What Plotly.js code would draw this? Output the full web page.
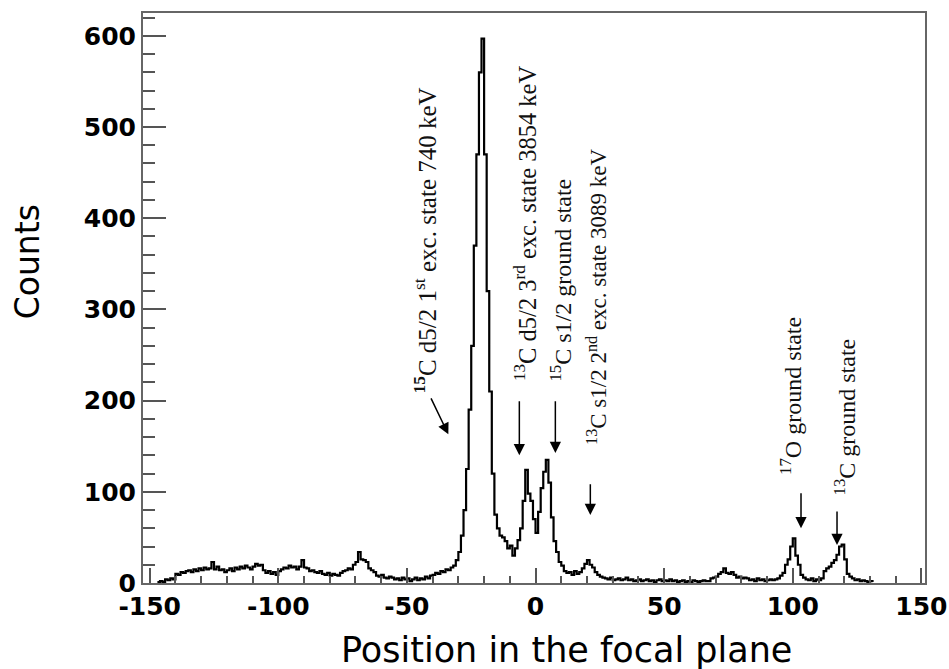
<!DOCTYPE html>
<html>
<head>
<meta charset="utf-8">
<script src="https://cdn.plot.ly/plotly-3.0.1.min.js"></script>
<style>html,body{margin:0;padding:0;background:#fff;}#chart{width:949px;height:669px;}</style>
</head>
<body>
<div id="chart"></div>
<script>
// Histogram: bins of width 1, first bin starts at -147
const binStart = -147;
const binWidth = 1;
const counts = [
  1, 2, 1, 4, 3, 5, 4, 10, 9, 12,            // -147 .. -138
  11, 13, 14, 12, 15, 13, 16, 14, 17, 15,    // -137 .. -128
  16, 23, 15, 18, 14, 15, 12, 14, 16, 13,    // -127 .. -118
  17, 15, 18, 16, 19, 17, 15, 18, 21, 19,    // -117 .. -108
  20, 14, 11, 13, 10, 12, 9, 13, 15, 17,     // -107 .. -98
  16, 19, 17, 18, 15, 18, 25, 17, 16, 13,    // -97 .. -88
  14, 12, 11, 13, 10, 9, 11, 8, 10, 9,       // -87 .. -78
  8, 11, 13, 14, 16, 15, 20, 23, 34, 26,     // -77 .. -68
  25, 23, 16, 14, 12, 8, 7, 9, 6, 5,         // -67 .. -58
  7, 6, 4, 5, 3, 6, 4, 5, 2, 4,              // -57 .. -48
  6, 3, 5, 4, 7, 5, 8, 9, 11, 10,            // -47 .. -38
  13, 12, 15, 14, 17, 19, 25, 34, 52, 80,    // -37 .. -28
  125, 190, 260, 370, 470, 560, 597, 470, 320, 210, // -27 .. -18
  120, 75, 60, 52, 50, 46, 38, 41, 30, 38,   // -17 .. -8
  47, 60, 90, 124, 98, 90, 70, 55, 78, 104,  // -7 .. 2
  122, 135, 110, 72, 46, 34, 23, 19, 13, 11, // 3 .. 12
  12, 9, 13, 10, 12, 16, 21, 25, 20, 17,     // 13 .. 22
  12, 9, 7, 6, 5, 4, 6, 3, 4, 5,             // 23 .. 32
  3, 4, 6, 3, 4, 2, 3, 4, 2, 3,              // 33 .. 42
  4, 2, 3, 1, 3, 4, 2, 3, 2, 4,              // 43 .. 52
  2, 3, 1, 2, 3, 1, 2, 1, 3, 2,              // 53 .. 62
  1, 2, 3, 2, 2, 5, 6, 7, 10, 12,            // 63 .. 72
  16, 11, 10, 12, 9, 6, 7, 5, 6, 5,          // 73 .. 82
  3, 4, 2, 5, 3, 4, 2, 3, 4, 3,              // 83 .. 92
  4, 5, 8, 11, 20, 26, 40, 49, 30, 20,       // 93 .. 102
  9, 6, 4, 3, 5, 2, 4, 3, 5, 13,             // 103 .. 112
  16, 18, 22, 25, 31, 40, 42, 26, 10, 7,     // 113 .. 122
  5, 3, 4, 2, 3, 2, 1, 2, 1                  // 123 .. 131
];
const xTickVals = [-150, -100, -50, 0, 50, 100, 150];
const xTickText = ["-150", "-100", "-50", "0", "50", "100", "150"];
const yTickVals = [0, 100, 200, 300, 400, 500, 600];
const yTickText = ["0", "100", "200", "300", "400", "500", "600"];
const labels = [
  "<b><sup>15</sup></b>C d5/2 1<sup>st</sup> exc. state 740 keV",
  "<sup>13</sup>C d5/2 3<sup>rd</sup> exc. state 3854 keV",
  "<sup>15</sup>C s1/2 ground state",
  "<sup>13</sup>C s1/2 2<sup>nd</sup> exc. state 3089 keV",
  "<sup>17</sup>O ground state",
  "<sup>13</sup>C ground state"
];
const xTitle = "Position in the focal plane";
const yTitle = "Counts";

// label placement (data coords)
const labelX = [-42.8, -4.0, 9.8, 23.8, 99.2, 120.2];
const labelY = [206, 219, 219, 149, 116, 94];
const labelSize = [25, 24.5, 24, 23, 24, 24];
const arrowHead = [[-33.9, 163], [-6.3, 140], [7.7, 142.5], [21.3, 74.6], [103.2, 60], [117.2, 41.7]];
const arrowTail = [[-40.9, 204], [-6.3, 201], [7.7, 201], [21.3, 110], [103.2, 100], [117.2, 80]];

const xs = counts.map((_, i) => binStart + i * binWidth);

const trace = {
  x: xs, y: counts, type: 'scatter', mode: 'lines',
  line: {shape: 'hv', color: '#000', width: 2.2},
  hoverinfo: 'x+y'
};

const tickFont = {family: 'DejaVu Sans', size: 25, color: '#000', weight: 'bold'};

const annotations = [];
labels.forEach((t, i) => {
  annotations.push({
    x: labelX[i], y: labelY[i], xref: 'x', yref: 'y',
    text: t, showarrow: false, textangle: -90,
    xanchor: 'center', yanchor: 'bottom',
    font: {family: 'Liberation Serif', size: labelSize[i], color: '#111'}
  });
  annotations.push({
    x: arrowHead[i][0], y: arrowHead[i][1], xref: 'x', yref: 'y',
    ax: arrowTail[i][0], ay: arrowTail[i][1], axref: 'x', ayref: 'y',
    text: '', showarrow: true, arrowhead: 2, arrowsize: 1.5, arrowwidth: 1.5,
    arrowcolor: '#000', standoff: 0, startstandoff: 0
  });
});
annotations.push({
  xref: 'paper', yref: 'paper', x: -0.148, y: 0.563, text: yTitle,
  showarrow: false, textangle: -90, xanchor: 'center', yanchor: 'middle',
  font: {family: 'DejaVu Sans', size: 33, color: '#000'}
});
annotations.push({
  xref: 'paper', yref: 'paper', x: 0.542, y: -0.1175, text: xTitle,
  showarrow: false, xanchor: 'center', yanchor: 'middle',
  font: {family: 'DejaVu Sans', size: 35, color: '#000'}
});

const layout = {
  width: 949, height: 669,
  margin: {l: 143, r: 24, t: 13, b: 86},
  paper_bgcolor: '#fff', plot_bgcolor: '#fff',
  showlegend: false,
  xaxis: {
    range: [-152.6, 151.4], tickmode: 'array', tickvals: xTickVals, ticktext: xTickText,
    ticks: 'inside', ticklen: 15, tickwidth: 2, tickcolor: '#555',
    showline: true, linecolor: '#666', linewidth: 2, mirror: true,
    showgrid: false, zeroline: false, tickfont: tickFont,
    minor: {tickmode: 'linear', tick0: 0, dtick: 10, ticks: 'inside', ticklen: 7, tickwidth: 2, tickcolor: '#555', showgrid: false}
  },
  yaxis: {
    range: [0, 625], tickmode: 'array', tickvals: yTickVals, ticktext: yTickText,
    ticks: 'inside', ticklen: 23, tickwidth: 2, tickcolor: '#555',
    showline: true, linecolor: '#666', linewidth: 2, mirror: true,
    showgrid: false, zeroline: false, tickfont: tickFont,
    minor: {tickmode: 'linear', tick0: 0, dtick: 20, ticks: 'inside', ticklen: 12, tickwidth: 2, tickcolor: '#555', showgrid: false}
  },
  annotations: annotations
};

Plotly.newPlot('chart', [trace], layout, {displayModeBar: false, staticPlot: true});
</script>
</body>
</html>
